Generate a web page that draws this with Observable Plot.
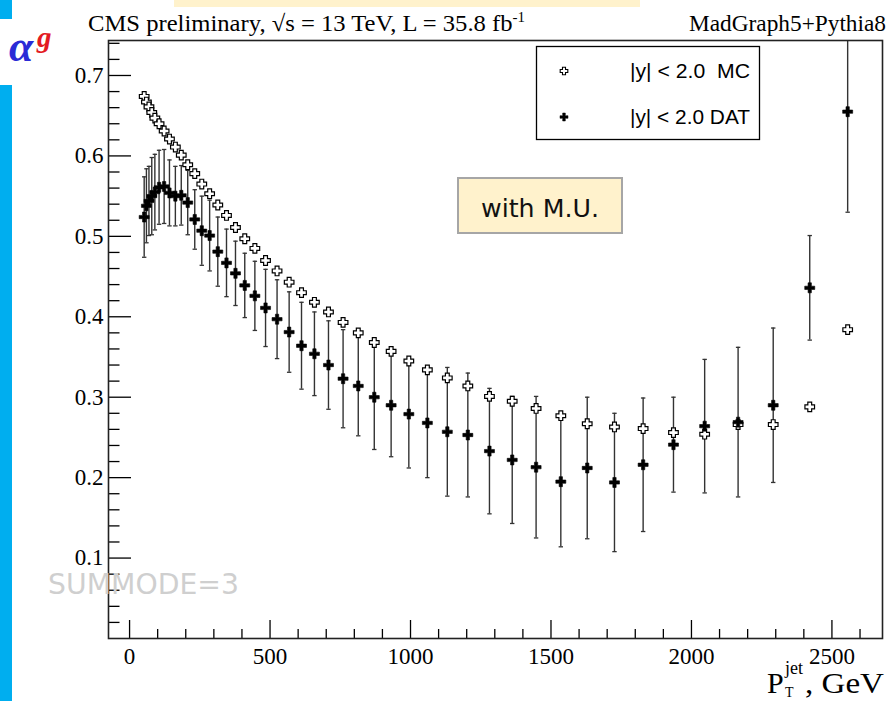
<!DOCTYPE html>
<html><head><meta charset="utf-8">
<script src="https://cdn.jsdelivr.net/npm/d3@7"></script>
<script src="https://cdn.jsdelivr.net/npm/@observablehq/plot@0.6"></script>
<style>
html,body{margin:0;padding:0;background:#fff;}
#wrap{position:relative;width:890px;height:701px;overflow:hidden;}
#wrap > svg{position:absolute;left:0;top:0;}
</style></head><body><div id="wrap"></div>
<script>
// ---- data ----
const ptJet = [52, 60, 69, 79, 90, 105, 123, 142, 163, 184, 207, 232, 257, 285, 314, 345, 377, 410, 446, 484, 525, 568, 612, 658, 708, 760, 814, 871, 931, 994, 1060, 1131, 1204, 1281, 1362, 1447, 1535, 1629, 1726, 1828, 1936, 2047, 2166, 2291, 2421, 2556];
const mcValues = [0.674, 0.667, 0.661, 0.654, 0.647, 0.640, 0.631, 0.621, 0.611, 0.601, 0.589, 0.578, 0.565, 0.553, 0.539, 0.526, 0.511, 0.497, 0.485, 0.470, 0.457, 0.443, 0.430, 0.418, 0.406, 0.393, 0.380, 0.368, 0.357, 0.345, 0.334, 0.324, 0.314, 0.301, 0.295, 0.286, 0.277, 0.267, 0.263, 0.261, 0.256, 0.254, 0.266, 0.266, 0.288, 0.384];
const datValues = [0.524, 0.538, 0.544, 0.550, 0.555, 0.561, 0.562, 0.554, 0.550, 0.551, 0.542, 0.521, 0.507, 0.501, 0.481, 0.467, 0.454, 0.439, 0.426, 0.411, 0.397, 0.381, 0.364, 0.354, 0.340, 0.323, 0.314, 0.300, 0.290, 0.279, 0.268, 0.257, 0.253, 0.233, 0.222, 0.213, 0.195, 0.212, 0.194, 0.216, 0.241, 0.264, 0.269, 0.290, 0.436, 0.655];
const datErrors = [0.050, 0.046, 0.043, 0.048, 0.047, 0.046, 0.046, 0.041, 0.037, 0.037, 0.040, 0.037, 0.043, 0.044, 0.043, 0.042, 0.040, 0.040, 0.043, 0.048, 0.049, 0.050, 0.054, 0.052, 0.055, 0.061, 0.062, 0.065, 0.064, 0.067, 0.068, 0.080, 0.077, 0.078, 0.079, 0.088, 0.081, 0.088, 0.086, 0.083, 0.059, 0.083, 0.093, 0.096, 0.065, 0.125];

const xMajorTicks = [0, 500, 1000, 1500, 2000, 2500];
const xMinorTicks = [100, 200, 300, 400, 600, 700, 800, 900, 1100, 1200, 1300, 1400, 1600, 1700, 1800, 1900, 2100, 2200, 2300, 2400, 2600];
const yMajorTicks = [0.1, 0.2, 0.3, 0.4, 0.5, 0.6, 0.7];
const yMinorTicks = [0.02, 0.04, 0.06, 0.08, 0.12, 0.14, 0.16, 0.18, 0.22, 0.24, 0.26, 0.28, 0.32, 0.34, 0.36, 0.38, 0.42, 0.44, 0.46, 0.48, 0.52, 0.54, 0.56, 0.58, 0.62, 0.64, 0.66, 0.68, 0.72, 0.74];

const legendLabels = ["|y| < 2.0  MC", "|y| < 2.0 DAT"];
const titleLeft = "CMS preliminary, \u221As = 13 TeV, L = 35.8 fb";
const titleRight = "MadGraph5+Pythia8";
const boxNote = "with M.U.";
const watermark = "SUMMODE=3";

// ---- tables ----
const mcRows = ptJet.map((x, i) => ({x, y: mcValues[i]}));
const datRows = ptJet.map((x, i) => ({x, y: datValues[i], lo: datValues[i] - datErrors[i], hi: datValues[i] + datErrors[i]}));

function crossSymbol(ratio) {
  return {draw(ctx, size) {
    const a = Math.sqrt(size / Math.PI), t = a * ratio;
    ctx.moveTo(-t, -a); ctx.lineTo(t, -a); ctx.lineTo(t, -t); ctx.lineTo(a, -t);
    ctx.lineTo(a, t); ctx.lineTo(t, t); ctx.lineTo(t, a); ctx.lineTo(-t, a);
    ctx.lineTo(-t, t); ctx.lineTo(-a, t); ctx.lineTo(-a, -t); ctx.lineTo(-t, -t);
    ctx.closePath();
  }};
}
const capSymbol = {draw(ctx, size) { const a = Math.sqrt(size / Math.PI); ctx.moveTo(-a, 0); ctx.lineTo(a, 0); }};

const chart = Plot.plot({
  width: 890, height: 701,
  marginLeft: 108, marginRight: 8, marginTop: 40, marginBottom: 63,
  x: {domain: [-75, 2680]},
  y: {domain: [0, 0.7435]},
  style: {fontFamily: "'Liberation Serif', 'Times New Roman', serif", fontSize: "23px", color: "black", background: "white"},
  marks: [
    Plot.ruleX(datRows, {x: "x", y1: "lo", y2: "hi", stroke: "#333", strokeWidth: 1.4, clip: true}),
    Plot.dot(datRows, {x: "x", y: "lo", r: 2.2, symbol: capSymbol, fill: "none", stroke: "#333", strokeWidth: 1.3, clip: true}),
    Plot.dot(datRows, {x: "x", y: "hi", r: 2.2, symbol: capSymbol, fill: "none", stroke: "#333", strokeWidth: 1.3, clip: true}),
    Plot.dot(mcRows, {x: "x", y: "y", r: 4.8, symbol: crossSymbol(0.4), fill: "white", stroke: "black", strokeWidth: 1.2}),
    Plot.dot(datRows, {x: "x", y: "y", r: 5, symbol: crossSymbol(0.33), fill: "black", stroke: "black", strokeWidth: 0.6}),
    Plot.axisY(yMinorTicks, {anchor: "left", tickSize: -11.5, tickPadding: 0, tickFormat: () => "", label: null, strokeWidth: 1.3}),
    Plot.axisY(yMajorTicks, {anchor: "left", tickSize: -23, tickPadding: 28, tickFormat: d3.format(".1f"), label: null, strokeWidth: 1.3}),
    Plot.axisX(xMinorTicks, {anchor: "bottom", tickSize: -9, tickPadding: 0, tickFormat: () => "", label: null, strokeWidth: 1.3}),
    Plot.axisX(xMajorTicks, {anchor: "bottom", tickSize: -18, tickPadding: 27, tickFormat: d3.format("d"), label: null, strokeWidth: 1.3}),
    Plot.frame({stroke: "#222", strokeWidth: 1.6})
  ]
});
document.getElementById("wrap").appendChild(chart);

// ---- annotations overlay ----
const ov = d3.select("#wrap").append("svg").attr("width", 890).attr("height", 701)
  .style("pointer-events", "none");

ov.append("rect").attr("x", 0).attr("y", 0).attr("width", 12).attr("height", 19).attr("fill", "#00AEEF");
ov.append("rect").attr("x", 0).attr("y", 85).attr("width", 12).attr("height", 616).attr("fill", "#00AEEF");
ov.append("rect").attr("x", 174).attr("y", 0).attr("width", 466).attr("height", 7).attr("fill", "#FFF2CC");

const serif = "'Liberation Serif', 'Times New Roman', serif";
const t1 = ov.append("text").attr("x", 88).attr("y", 31).attr("font-family", serif).attr("font-size", 23)
  .attr("textLength", 437).attr("lengthAdjust", "spacingAndGlyphs");
t1.append("tspan").text(titleLeft);
t1.append("tspan").attr("dy", -9).attr("font-size", 14).text("-1");
ov.append("text").attr("x", 886).attr("y", 31).attr("text-anchor", "end").attr("font-family", serif)
  .attr("font-size", 23).attr("textLength", 197).attr("lengthAdjust", "spacingAndGlyphs").text(titleRight);

// alpha^g
ov.append("text").attr("x", 9).attr("y", 61).attr("font-family", serif).attr("font-size", 44)
  .attr("font-weight", "bold").attr("font-style", "italic").attr("fill", "#2B2BD6").text("\u03B1");
ov.append("text").attr("x", 37).attr("y", 47).attr("font-family", serif).attr("font-size", 29)
  .attr("font-weight", "bold").attr("font-style", "italic").attr("fill", "#E31B23").text("g");

// legend
ov.append("rect").attr("x", 536.5).attr("y", 46.5).attr("width", 223).attr("height", 93)
  .attr("fill", "white").attr("stroke", "black").attr("stroke-width", 1.3);
const sym = d3.symbol();
ov.append("path").attr("transform", "translate(564,71)").attr("d", sym.type(crossSymbol(0.4)).size(Math.PI * 3.8 * 3.8)())
  .attr("fill", "white").attr("stroke", "black").attr("stroke-width", 1.1);
ov.append("path").attr("transform", "translate(564,117)").attr("d", sym.type(crossSymbol(0.33)).size(Math.PI * 4 * 4)())
  .attr("fill", "black").attr("stroke", "black").attr("stroke-width", 0.5);
const sans = "'Liberation Sans', Arial, sans-serif";
ov.append("text").attr("x", 630).attr("y", 78).attr("font-family", sans).attr("font-size", 19.5)
  .style("white-space", "pre").attr("textLength", 120).attr("lengthAdjust", "spacingAndGlyphs").text(legendLabels[0]);
ov.append("text").attr("x", 630).attr("y", 124).attr("font-family", sans).attr("font-size", 19.5)
  .style("white-space", "pre").attr("textLength", 120).attr("lengthAdjust", "spacingAndGlyphs").text(legendLabels[1]);

// "with M.U." box
ov.append("rect").attr("x", 458).attr("y", 178).attr("width", 164).attr("height", 55)
  .attr("fill", "#FFF2CC").attr("stroke", "#A6A6A6").attr("stroke-width", 2);
ov.append("text").attr("x", 481).attr("y", 217).attr("font-family", "'DejaVu Sans', Verdana, sans-serif")
  .attr("font-size", 24).attr("textLength", 118).attr("lengthAdjust", "spacingAndGlyphs").attr("fill", "#111").text(boxNote);

// watermark
ov.append("text").attr("x", 48).attr("y", 594).attr("font-family", "'DejaVu Sans', Verdana, sans-serif")
  .attr("font-size", 29).attr("textLength", 191).attr("lengthAdjust", "spacingAndGlyphs").attr("fill", "#CFCFCF").text(watermark);

// x axis title
ov.append("text").attr("x", 767).attr("y", 693).attr("font-family", serif).attr("font-size", 30).text("P");
ov.append("text").attr("x", 785).attr("y", 674).attr("font-family", serif).attr("font-size", 18).text("jet");
ov.append("text").attr("x", 785).attr("y", 697).attr("font-family", serif).attr("font-size", 14).text("T");
ov.append("text").attr("x", 805).attr("y", 693).attr("font-family", serif).attr("font-size", 30)
  .attr("textLength", 79).attr("lengthAdjust", "spacingAndGlyphs").text(", GeV");
</script></body></html>
